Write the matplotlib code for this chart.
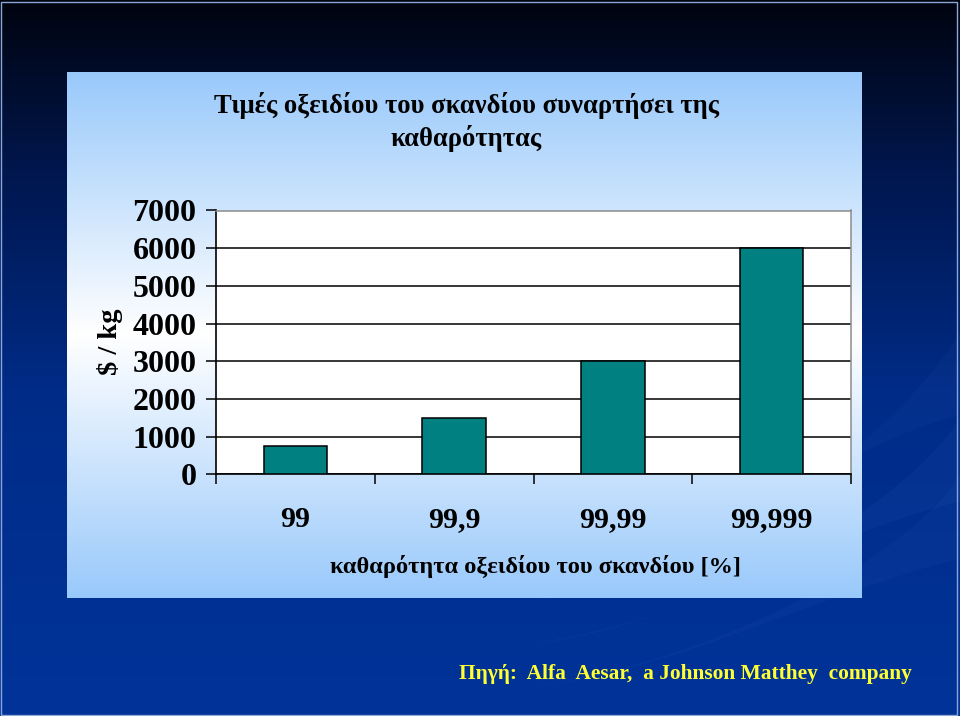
import numpy as np
import matplotlib
matplotlib.use('Agg')
import matplotlib.pyplot as plt
from matplotlib.colors import LinearSegmentedColormap
from matplotlib.patches import Rectangle, PathPatch
from matplotlib.path import Path

# ---- data ----
categories = ['99', '99,9', '99,99', '99,999']
prices = [750, 1500, 3000, 6000]
yticks = [0, 1000, 2000, 3000, 4000, 5000, 6000, 7000]
title_text = 'Τιμές οξειδίου του σκανδίου συναρτήσει της\nκαθαρότητας'
xlabel_text = 'καθαρότητα οξειδίου του σκανδίου [%]'
ylabel_text = '$ / kg'
source_text = 'Πηγή:  Alfa  Aesar,  a Johnson Matthey  company'

W, H = 960, 716
plt.rcParams['font.family'] = ['Liberation Serif', 'DejaVu Serif']
plt.rcParams['font.weight'] = 'bold'
plt.rcParams['mathtext.default'] = 'regular'

fig = plt.figure(figsize=(W / 100, H / 100), dpi=100)


def fx(x):
    return x / W


def fy(y):
    return 1 - y / H


# ---- slide background ----
bg = fig.add_axes([0, 0, 1, 1])
bg.set_axis_off()
cmap_bg = LinearSegmentedColormap.from_list(
    'bg', [(0, '#00040f'), (0.25, '#001750'), (0.55, '#002c88'), (1, '#003399')])
grad = np.linspace(0, 1, 256).reshape(-1, 1)
bg.imshow(grad, aspect='auto', cmap=cmap_bg, extent=(0, 1, 0, 1), origin='upper')
bg.set_xlim(0, 1)
bg.set_ylim(0, 1)

# faint swooshes on the right
for (y0, y1, a) in [(0.30, 0.10, 0.07), (0.42, 0.16, 0.05), (0.22, 0.04, 0.06)]:
    verts = [(0.55, y1), (0.80, y1 + 0.05), (0.98, y0 + 0.05), (1.0, y0 + 0.12),
             (1.0, y0), (0.85, y0 - 0.05), (0.70, y1 + 0.02), (0.55, y1)]
    codes = [Path.MOVETO, Path.CURVE4, Path.CURVE4, Path.CURVE4,
             Path.LINETO, Path.CURVE4, Path.CURVE4, Path.CURVE4]
    bg.add_patch(PathPatch(Path(verts, codes), facecolor='#4f7fd8', edgecolor='none', alpha=a))
bg.add_patch(Rectangle((0.0015, 0.002), 0.9955, 0.995, fill=False, edgecolor='#8aa6d6', lw=1.0))

# ---- light panel ----
pl, pr, pt, pb = 67, 862, 72, 598
panel = fig.add_axes([fx(pl), fy(pb), fx(pr - pl), (pb - pt) / H])
panel.set_axis_off()
cmap_p = LinearSegmentedColormap.from_list(
    'p', [(0, '#99c9fb'), (0.5, '#ffffff'), (1, '#99c9fb')])
panel.imshow(grad, aspect='auto', cmap=cmap_p, extent=(0, 1, 0, 1), origin='upper')
panel.set_xlim(0, 1)
panel.set_ylim(0, 1)

# ---- chart ----
al, ar, at, ab = 216, 851, 210.5, 474.3
ax = fig.add_axes([fx(al), fy(ab), fx(ar - al), (ab - at) / H])
ax.set_facecolor('white')
x = np.arange(len(categories))
ax.bar(x, prices, width=0.4, color='#008080', edgecolor='black', linewidth=1.1, zorder=3)
ax.set_xlim(-0.5, len(categories) - 0.5)
ax.set_ylim(0, 7000)
ax.set_yticks(yticks)
ax.set_yticklabels([str(v) for v in yticks])
ax.yaxis.grid(True, color='black', linewidth=1.1, zorder=0)
ax.set_axisbelow(True)

ax.set_xticks(np.arange(-0.5, len(categories)), labels=[''] * (len(categories) + 1))
ax.set_xticks(x, labels=categories, minor=True)
ax.tick_params(axis='x', which='major', direction='out', length=7, width=1.1)
ax.tick_params(axis='x', which='minor', length=0, pad=23, labelsize=21.5)
ax.tick_params(axis='y', direction='out', length=7, width=1.1, pad=7, labelsize=23)
for lab in ax.get_xticklabels(minor=True) + ax.get_yticklabels():
    lab.set_fontweight('bold')

for s in ['left', 'bottom']:
    ax.spines[s].set_color('black')
    ax.spines[s].set_linewidth(1.2)
for s in ['top', 'right']:
    ax.spines[s].set_color('#8c8c8c')
    ax.spines[s].set_linewidth(1.1)

# ---- texts ----
fig.text(fx(466), fy(122), title_text, ha='center', va='center', fontsize=19.2,
         fontweight='bold', color='black', linespacing=1.3)
fig.text(fx(535), fy(566), xlabel_text, ha='center', va='center', fontsize=17.6,
         fontweight='bold', color='black')
fig.text(fx(110), fy(342), ylabel_text, ha='center', va='center', fontsize=20.5,
         fontweight='bold', color='black', rotation=90)
fig.text(fx(912), fy(674), source_text, ha='right', va='center', fontsize=15.4,
         fontweight='bold', color='#ffff33')

fig.savefig('out.png', dpi=100)
